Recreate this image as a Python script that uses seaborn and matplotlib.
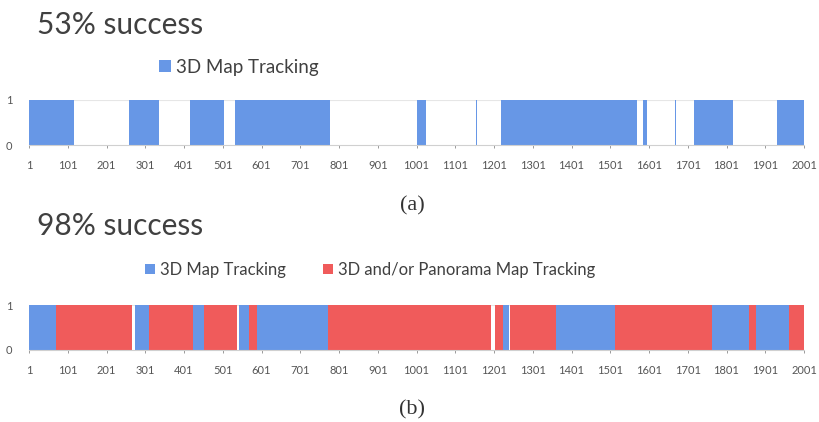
import matplotlib
matplotlib.use("Agg")
import matplotlib.pyplot as plt
from matplotlib.patches import Patch
import seaborn as sns

# Tracking segments over the 2001-frame sequence (first frame, last frame)
frames_first = 1
frames_last = 2001
tick_frames = list(range(1, 2002, 100))

# (a) 3D map tracking alone
a_start = [1, 260, 416, 533, 1003, 1155, 1218, 1585, 1669, 1716, 1931]
a_end = [118, 337, 504, 779, 1025, 1157, 1569, 1597, 1671, 1819, 2001]
a_mode = ["3D"] * len(a_start)

# (b) 3D map tracking combined with panorama map tracking
b_start = [1, 70, 275, 311, 425, 453, 544, 570, 590, 773, 1203, 1223, 1242,
           1361, 1513, 1763, 1859, 1877, 1963]
b_end = [70, 268, 311, 425, 453, 539, 570, 590, 773, 1192, 1223, 1240, 1361,
         1513, 1763, 1859, 1877, 1963, 2001]
b_mode = ["3D", "Pano", "3D", "Pano", "3D", "Pano", "3D", "Pano", "3D", "Pano",
          "Pano", "3D", "Pano", "3D", "Pano", "3D", "Pano", "3D", "Pano"]

titles = ["53% success", "98% success"]
captions = ["(a)", "(b)"]
mode_labels = {"3D": "3D Map Tracking", "Pano": "3D and/or Panorama Map Tracking"}
mode_colors = {"3D": "#6797e6", "Pano": "#f05b5b"}

sns.set_theme(style="white")
plt.rcParams["font.family"] = ["Lato", "DejaVu Sans"]

fig = plt.figure(figsize=(8.19, 4.22), dpi=100)
W, H = 819, 422


def axes_rect(left, top, right, bottom):
    return [left / W, 1 - bottom / H, (right - left) / W, (bottom - top) / H]


panels = [
    dict(rect=axes_rect(29, 99.5, 804, 145), start=a_start, end=a_end, mode=a_mode,
         title_y=25, legend_x=239, legend_y=67, legend_size=13.5, caption_y=206),
    dict(rect=axes_rect(29, 305, 804, 350), start=b_start, end=b_end, mode=b_mode,
         title_y=226, legend_x=370, legend_y=270, legend_size=12, caption_y=410),
]

for i, p in enumerate(panels):
    ax = fig.add_axes(p["rect"])
    for s, e, m in zip(p["start"], p["end"], p["mode"]):
        ax.bar(s, 1, width=e - s, align="edge", color=mode_colors[m],
               linewidth=0, zorder=2)
    ax.set_xlim(frames_first, frames_last)
    ax.set_ylim(0, 1)
    ax.set_xticks(tick_frames)
    ax.set_xticklabels([str(t) for t in tick_frames])
    ax.set_yticks([0, 1])
    ax.set_yticklabels(["0", "1"])
    ax.tick_params(axis="x", labelsize=8, colors="#8a8a8a", labelcolor="#555555",
                   length=2, width=0.6, pad=9, bottom=True, direction="out")
    ax.tick_params(axis="y", labelsize=8, labelcolor="#555555", length=0, pad=12)
    for side in ["top", "right", "left"]:
        ax.spines[side].set_visible(False)
    ax.spines["bottom"].set_color("#d0d0d0")
    ax.spines["bottom"].set_linewidth(0.8)
    ax.axhline(1, color="#e6e6e6", linewidth=0.8, zorder=1)
    ax.set_facecolor("none")

    fig.text(37 / W, 1 - p["title_y"] / H, titles[i], fontsize=21.5,
             color="#404040", ha="left", va="center")

    modes = [m for m in ["3D", "Pano"] if m in p["mode"]]
    handles = [Patch(facecolor=mode_colors[m], edgecolor="none", label=mode_labels[m])
               for m in modes]
    fig.legend(handles=handles, loc="center",
               bbox_to_anchor=(p["legend_x"] / W, 1 - p["legend_y"] / H),
               ncol=len(handles), frameon=False, fontsize=p["legend_size"],
               handlelength=0.6, handleheight=0.6, handletextpad=0.3,
               columnspacing=2.2, labelcolor="#404040")

    fig.text(412 / W, 1 - p["caption_y"] / H, captions[i],
             family=["Liberation Serif"], fontsize=16, color="#333333",
             ha="center", va="center")

fig.savefig("out.png", dpi=100, facecolor="white")
